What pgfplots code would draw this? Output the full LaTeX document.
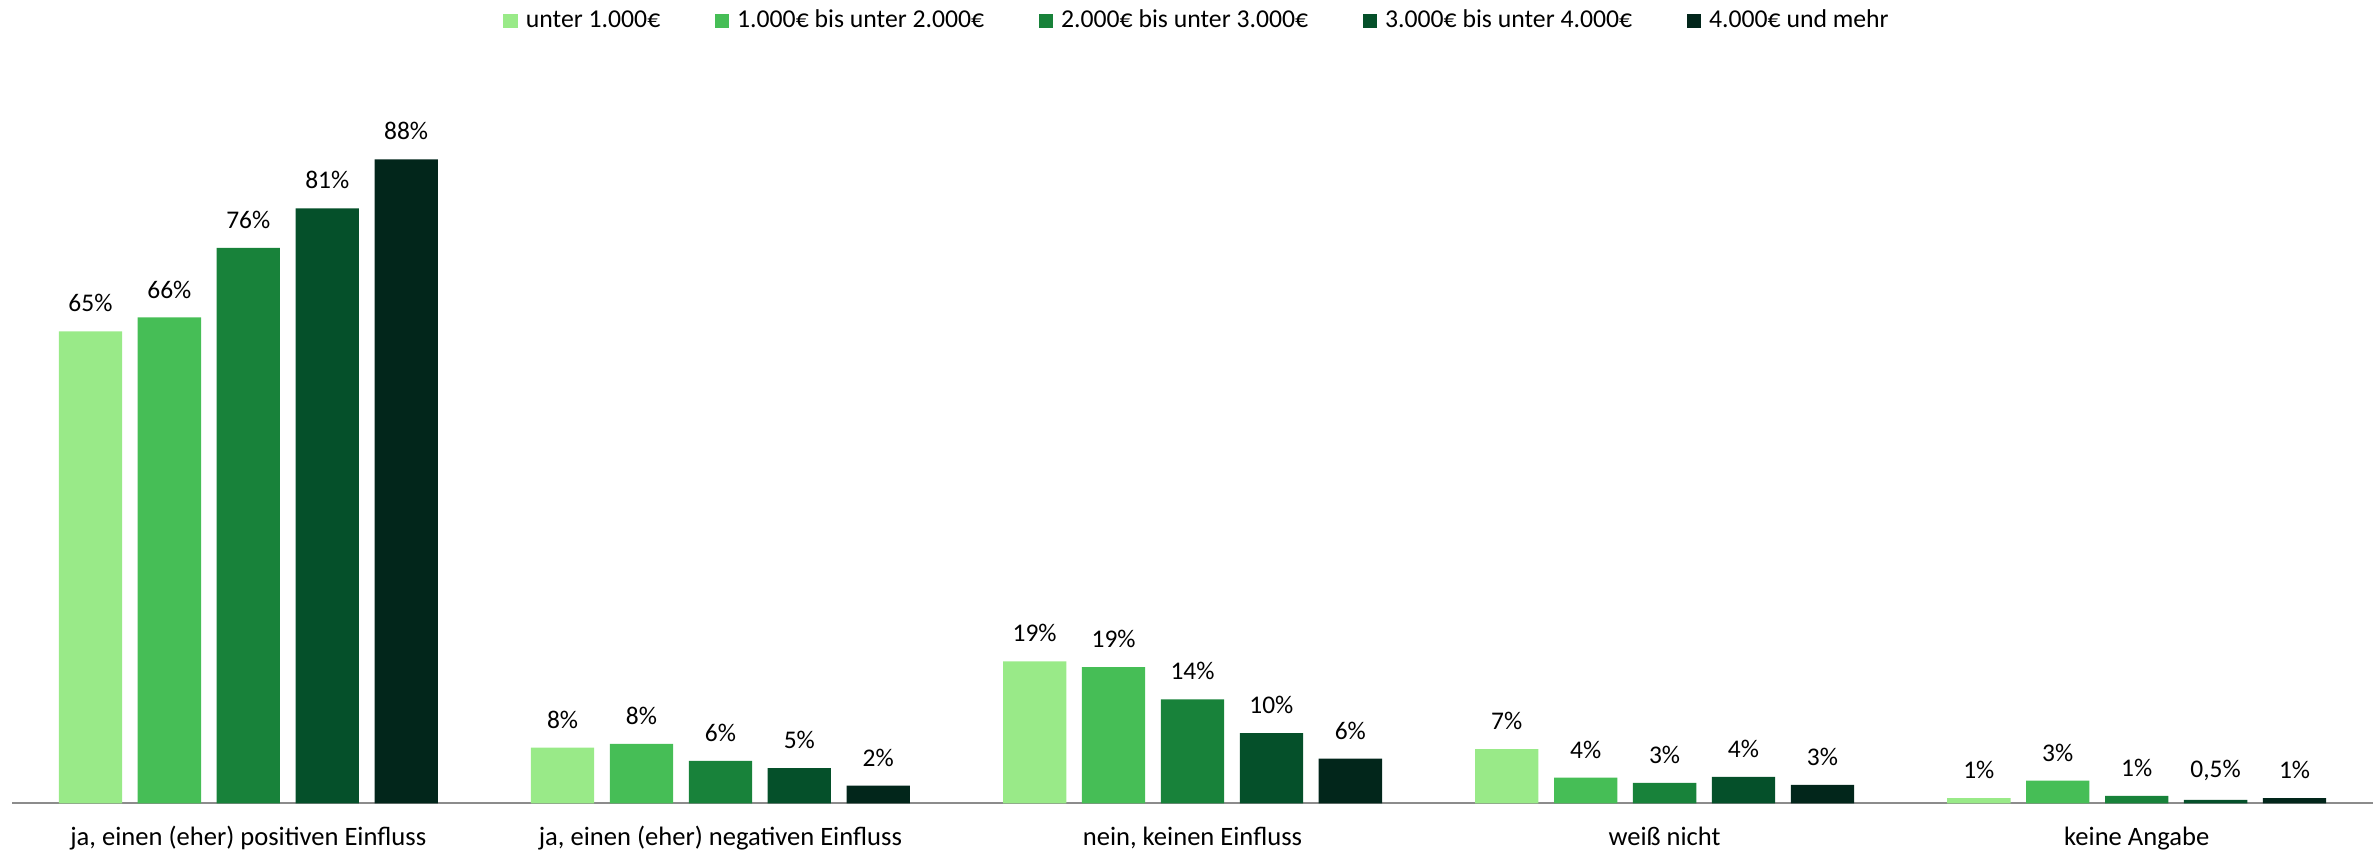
\documentclass[border=0pt]{standalone}
\usepackage{fontspec}
\setmainfont{Carlito}
\usepackage{pgfplots}
\pgfplotsset{compat=1.18}

\definecolor{inc1}{HTML}{99EA88}
\definecolor{inc2}{HTML}{46BE56}
\definecolor{inc3}{HTML}{18823A}
\definecolor{inc4}{HTML}{05502A}
\definecolor{inc5}{HTML}{02261B}
\definecolor{axisgray}{HTML}{8C8C8C}

\begin{document}
\begin{tikzpicture}
\begin{axis}[
    scale only axis,
    width=826.1pt, height=256.1pt,
    xmin=-0.5, xmax=4.5, ymin=0, ymax=100,
    enlargelimits=false,
    clip=false,
    ybar=5.46pt,
    bar width=22.16pt,
    axis x line*=bottom,
    axis y line=none,
    axis line style={axisgray, line width=0.7pt},
    xtick={0,1,2,3,4},
    xticklabels={ja{,} einen (eher) positiven Einfluss, ja{,} einen (eher) negativen Einfluss, nein{,} keinen Einfluss, weiß nicht, keine Angabe},
    xtick style={draw=none},
    xticklabel style={font=\fontsize{9.3}{11}\selectfont, anchor=base, inner sep=0pt, yshift=-10.6pt},
    ytick=\empty,
    point meta=explicit symbolic,
    nodes near coords,
    every node near coord/.append style={font=\fontsize{8.9}{10.5}\selectfont, text=black, anchor=south, inner sep=0pt, yshift=6.5pt},
    legend columns=5,
    legend style={draw=none, fill=none, at={(0.5015,1.069)}, anchor=center,
        font=\fontsize{9}{10.5}\selectfont, inner sep=0pt,
        nodes={inner sep=0pt},
        /tikz/every odd column/.append style={column sep=2.9pt},
        /tikz/every even column/.append style={column sep=19pt}},
    legend image code/.code={\fill[#1] (0pt,-2.5pt) rectangle (5pt,2.5pt);},
]
\addplot[fill=inc1, draw=none] coordinates {
    (0,64.5) [65\%] (1,7.6) [8\%] (2,19.4) [19\%] (3,7.4) [7\%] (4,0.7) [1\%]};
\addlegendentry{unter 1.000€}
\addplot[fill=inc2, draw=none] coordinates {
    (0,66.4) [66\%] (1,8.1) [8\%] (2,18.6) [19\%] (3,3.5) [4\%] (4,3.1) [3\%]};
\addlegendentry{1.000€ bis unter 2.000€}
\addplot[fill=inc3, draw=none] coordinates {
    (0,75.9) [76\%] (1,5.8) [6\%] (2,14.2) [14\%] (3,2.8) [3\%] (4,1.0) [1\%]};
\addlegendentry{2.000€ bis unter 3.000€}
\addplot[fill=inc4, draw=none] coordinates {
    (0,81.3) [81\%] (1,4.8) [5\%] (2,9.6) [10\%] (3,3.6) [4\%] (4,0.45) [{0,5\%}]};
\addlegendentry{3.000€ bis unter 4.000€}
\addplot[fill=inc5, draw=none] coordinates {
    (0,88.0) [88\%] (1,2.4) [2\%] (2,6.1) [6\%] (3,2.5) [3\%] (4,0.7) [1\%]};
\addlegendentry{4.000€ und mehr}
% page frame
\path (axis cs:-0.526,-6.655) rectangle (axis cs:4.5133,109.77);
\end{axis}
\end{tikzpicture}
\end{document}
